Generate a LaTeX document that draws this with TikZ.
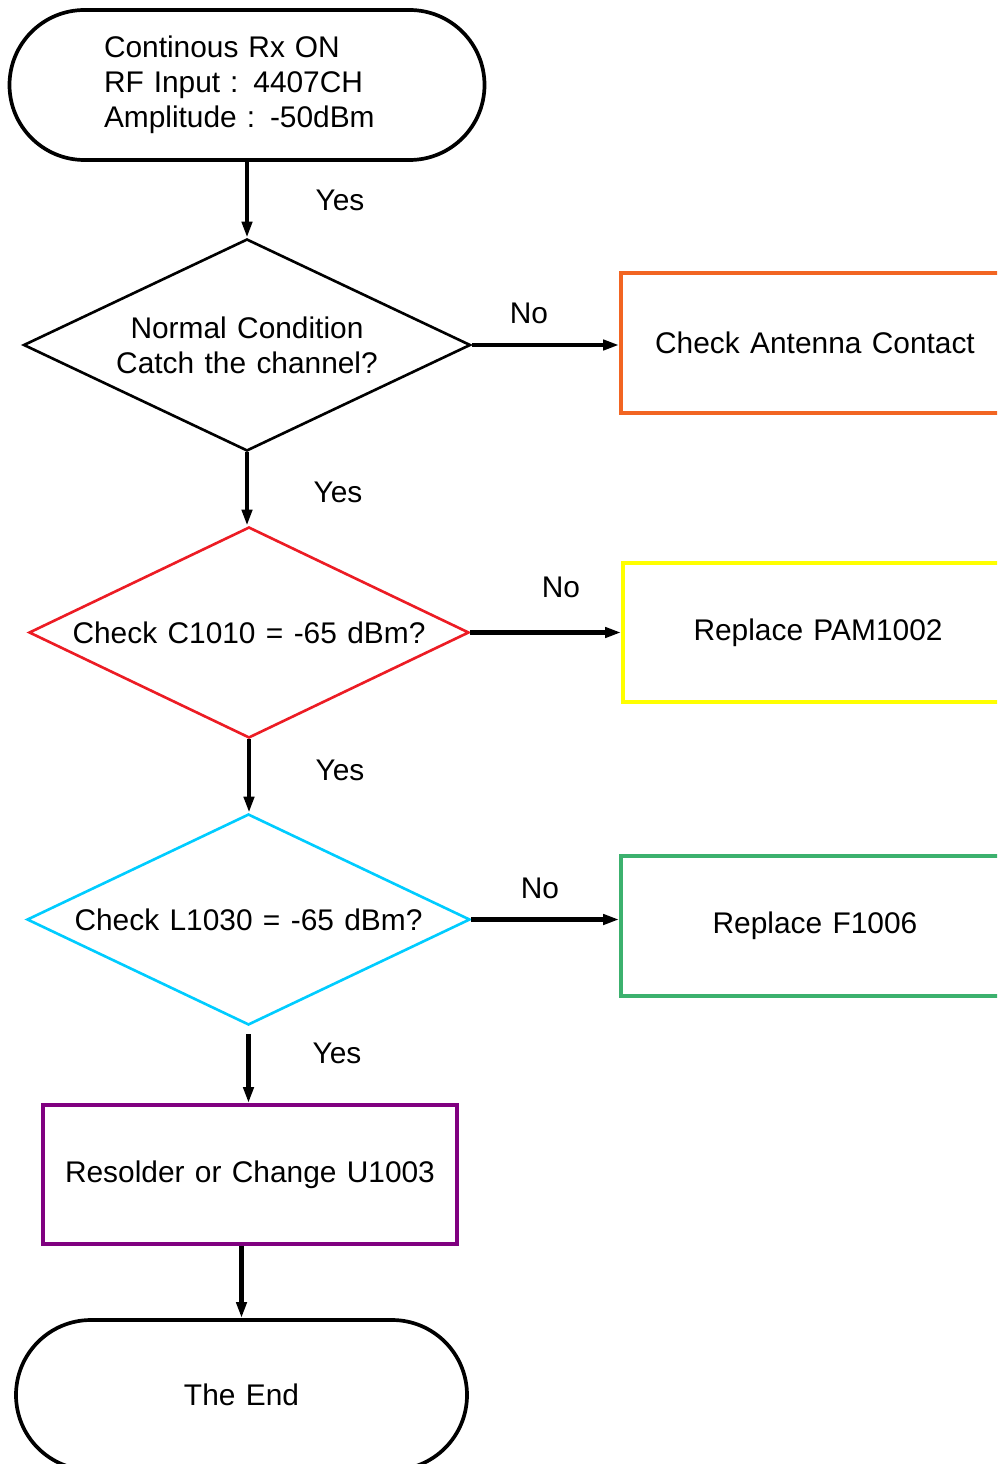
\documentclass[tikz,border=0pt]{standalone}
\usepackage{fontspec}
\setmainfont{Liberation Sans}[WordSpace=1.25]
\usetikzlibrary{shapes.geometric,arrows.meta}
\definecolor{chkorange}{RGB}{242,101,34}
\definecolor{chkred}{RGB}{236,28,36}
\definecolor{chkyellow}{RGB}{255,255,0}
\definecolor{chkcyan}{RGB}{0,204,255}
\definecolor{chkgreen}{RGB}{60,177,110}
\definecolor{chkpurple}{RGB}{128,0,128}
\begin{document}
\begin{tikzpicture}[font=\fontsize{17}{19.9}\selectfont,
  term/.style={draw,line width=2.1pt,rounded corners=1.5cm,minimum width=9.5cm,minimum height=3cm,align=center},
  dec/.style={diamond,draw,line width=1.5pt,inner sep=0pt,shape aspect=2.1,minimum height=4.22cm,align=center},
  act/.style={draw,line width=2.1pt,minimum width=7.76cm,minimum height=2.8cm},
  flow/.style={-{Triangle[length=0.32cm,width=0.2cm]},line width=2.5pt}]
  \useasboundingbox (0,0) rectangle (19.94,-29.28);
  \clip (0,0) rectangle (19.94,-29.28);
  % main column
  \node[term,text width=5.72cm,align=left] (start) at (4.94,-1.70){Continous  Rx  ON\\RF  Input  :  4407CH\\Amplitude  :  -50dBm};
  \node[dec,minimum width=8.94cm,minimum height=4.24cm] (d1) at (4.94,-6.90){Normal  Condition\\Catch  the  channel?};
  \node[dec,draw=chkred,minimum width=8.8cm] (d2) at (4.98,-12.65){Check  C1010  =  -65  dBm?};
  \node[dec,draw=chkcyan,minimum width=8.86cm] (d3) at (4.97,-18.39){Check  L1030  =  -65  dBm?};
  \node[act,draw=chkpurple,minimum width=8.28cm,minimum height=2.78cm] (fix4) at (5.0,-23.49){Resolder  or  Change  U1003};
  \node[term,minimum width=9.02cm] (end) at (4.83,-27.9){The  End};
  % right column
  \node[act,draw=chkorange] (fix1) at (16.30,-6.86){Check  Antenna  Contact};
  \node[act,draw=chkyellow,minimum width=7.8cm,minimum height=2.78cm] (fix2) at (16.36,-12.65){Replace  PAM1002};
  \node[act,draw=chkgreen] (fix3) at (16.30,-18.52){Replace  F1006};
  % connectors
  \draw[flow] (start.south) -- (start.south |- d1.north);
  \draw[flow] (d1.south) -- (d1.south |- d2.north);
  \draw[flow] (d2.south) -- (d2.south |- d3.north);
  \draw[flow,shorten <=0.16cm] (d3.south) -- (d3.south |- fix4.north);
  \draw[flow] (end.north |- fix4.south) -- (end.north);
  \draw[flow] (d1.east) -- (d1.east -| fix1.west);
  \draw[flow] (d2.east) -- (d2.east -| fix2.west);
  \draw[flow] (d3.east) -- (d3.east -| fix3.west);
  % labels
  \node (yes1) at (6.80,-4.00){Yes};
  \node (no1) at (10.58,-6.26){No};
  \node (yes2) at (6.76,-9.84){Yes};
  \node (no2) at (11.22,-11.74){No};
  \node (yes3) at (6.80,-15.40){Yes};
  \node (no3) at (10.80,-17.76){No};
  \node (yes4) at (6.74,-21.06){Yes};
\end{tikzpicture}
\end{document}
